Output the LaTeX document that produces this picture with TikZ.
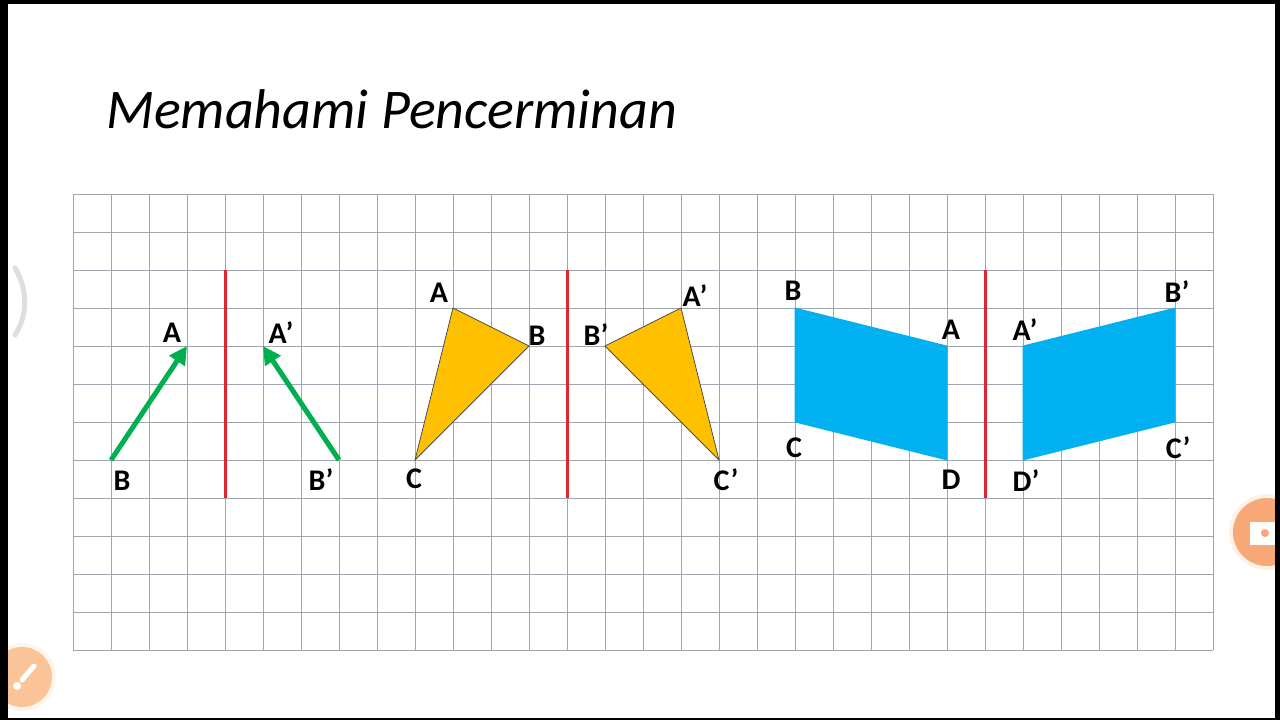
\documentclass[tikz,border=0pt]{standalone}
\usepackage{fontspec}
\setmainfont{Carlito}
\usetikzlibrary{arrows.meta}
\definecolor{gridc}{RGB}{158,166,176}
\definecolor{mirror}{RGB}{222,40,45}
\definecolor{garrowc}{RGB}{0,176,80}
\definecolor{gold}{RGB}{255,192,0}
\definecolor{sky}{RGB}{0,176,240}
\definecolor{orA}{RGB}{250,196,152}
\definecolor{orB}{RGB}{248,168,118}
\tikzset{
  gridline/.style={draw=gridc, line width=0.9},
  mirrorline/.style={draw=mirror, line width=3},
  vecarrow/.style={draw=garrowc, line width=5, -{Triangle[length=18,width=18]}},
  triface/.style={fill=gold, draw=black!70, line width=0.8, line join=miter},
  quadface/.style={fill=sky, draw=sky, line width=0.8},
  lbl/.style={font=\fontsize{30}{30}\selectfont\bfseries, inner sep=0, text=black},
  titletext/.style={font=\fontsize{56}{56}\selectfont\itshape, inner sep=0, anchor=base west}
}
\begin{document}
\begin{tikzpicture}[x=1pt,y=-1pt]
\useasboundingbox (0,0) rectangle (1280,720);
\fill[white] (0,0) rectangle (1280,720);
% title
\node[titletext] (title) at (106,128) {Memahami Pencerminan};
% grid
\foreach \i in {0,...,30} \draw[gridline] (73+38*\i,194) -- (73+38*\i,650);
\foreach \j in {0,...,12} \draw[gridline] (73,194+38*\j) -- (1213,194+38*\j);
% mirror lines
\coordinate (m1t) at (225,270); \coordinate (m1b) at (225,498);
\coordinate (m2t) at (567,270); \coordinate (m2b) at (567,498);
\coordinate (m3t) at (985,270); \coordinate (m3b) at (985,498);
\draw[mirrorline] (m1t) -- (m1b);
\draw[mirrorline] (m2t) -- (m2b);
\draw[mirrorline] (m3t) -- (m3b);
% arrows
\coordinate (vA) at (187,346); \coordinate (vB) at (111,460);
\coordinate (vA') at (263,346); \coordinate (vB') at (339,460);
\draw[vecarrow] (vB) -- (vA);
\draw[vecarrow] (vB') -- (vA');
\node[lbl] (lvA) at (172,333) {A};
\node[lbl] (lvA') at (281,333) {A’};
\node[lbl] (lvB) at (122,481) {B};
\node[lbl] (lvB') at (321,480) {B’};
% triangles
\coordinate (tA) at (453,308); \coordinate (tB) at (529,346); \coordinate (tC) at (415,460);
\coordinate (tA') at (681,308); \coordinate (tB') at (605,346); \coordinate (tC') at (719,460);
\draw[triface] (tA) -- (tB) -- (tC) -- cycle;
\draw[triface] (tA') -- (tB') -- (tC') -- cycle;
\node[lbl] (ltA) at (439,293) {A};
\node[lbl] (ltB) at (537,336) {B};
\node[lbl] (ltC) at (414,479) {C};
\node[lbl] (ltA') at (695,296) {A’};
\node[lbl] (ltB') at (596,335) {B’};
\node[lbl] (ltC') at (726,480) {C’};
% parallelograms
\coordinate (pB) at (795,308); \coordinate (pA) at (947,346); \coordinate (pD) at (947,460); \coordinate (pC) at (795,422);
\coordinate (pB') at (1175,308); \coordinate (pA') at (1023,346); \coordinate (pD') at (1023,460); \coordinate (pC') at (1175,422);
\draw[quadface] (pB) -- (pA) -- (pD) -- (pC) -- cycle;
\draw[quadface] (pB') -- (pA') -- (pD') -- (pC') -- cycle;
\node[lbl] (lpB) at (793,291) {B};
\node[lbl] (lpA) at (951,330) {A};
\node[lbl] (lpC) at (794,448) {C};
\node[lbl] (lpD) at (951,480) {D};
\node[lbl] (lpA') at (1025,330) {A’};
\node[lbl] (lpB') at (1177,292) {B’};
\node[lbl] (lpC') at (1178,448) {C’};
\node[lbl] (lpD') at (1026,481) {D’};
% screen overlay icons
\draw[black!13, line width=5, line cap=round] (15,268) .. controls (28,290) and (28,315) .. (15,335);
\fill[orange!8] (22,677) circle (34);
\fill[orA] (22,677) circle (30);
\draw[white, line width=5, line cap=round] (34,666) -- (22,680);
\fill[white] (17,686) circle (4);
\fill[orange!10] (1267,532) circle (38);
\fill[orB] (1267,532) circle (34);
\fill[white] (1250,522) rectangle (1276,545);
\fill[orB] (1265,533) circle (4);
% frame
\fill[black] (0,0) rectangle (1280,4);
\fill[black] (0,0) rectangle (8,720);
\fill[black] (1275,0) rectangle (1280,720);
\fill[black] (0,718) rectangle (1280,720);
\end{tikzpicture}
\end{document}
